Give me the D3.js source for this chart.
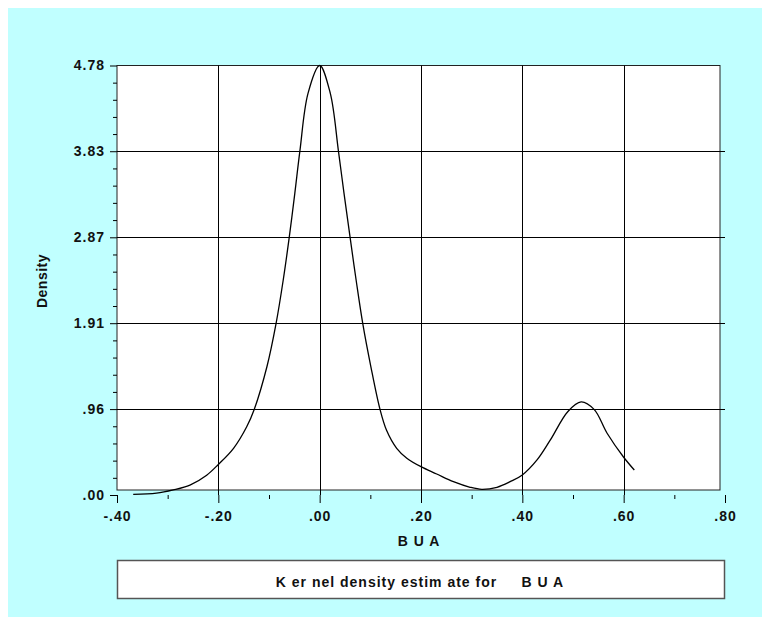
<!DOCTYPE html>
<html>
<head>
<meta charset="utf-8">
<script src="https://cdn.jsdelivr.net/npm/d3@7"></script>
<style>
    body { margin: 0; background: #ffffff; }
    text { font-family: "Liberation Sans", Arial, sans-serif; font-weight: bold; fill: #111; }
</style>
</head>
<body>
<div id="chart"></div>
<script>
// kernel density curve for BUA
const densityX = [-0.368, -0.322, -0.289, -0.256, -0.223, -0.2, -0.17, -0.144, -0.129, -0.104, -0.086, -0.072,
    -0.06, -0.049, -0.039, -0.023, 0, 0.021, 0.037, 0.048, 0.06, 0.072, 0.085, 0.101, 0.119, 0.132, 0.152,
    0.172, 0.2, 0.231, 0.264, 0.297, 0.32, 0.35, 0.376, 0.4, 0.429, 0.455, 0.49, 0.516,
    0.542, 0.567, 0.6, 0.621];
const densityY = [0.008, 0.02, 0.056, 0.11, 0.22, 0.34, 0.52, 0.76, 0.955, 1.43, 1.91, 2.39,
    2.87, 3.36, 3.83, 4.47, 4.78, 4.47, 3.83, 3.36, 2.87, 2.39, 1.91, 1.43, 0.955, 0.72, 0.52,
    0.41, 0.315, 0.234, 0.148, 0.086, 0.063, 0.086, 0.148, 0.223, 0.39, 0.61, 0.93, 1.036,
    0.95, 0.69, 0.42, 0.278];

const xTicks = [-0.4, -0.2, 0, 0.2, 0.4, 0.6, 0.8];
const xTickLabels = ["-.40", "-.20", ".00", ".20", ".40", ".60", ".80"];
const xMinorTicks = [-0.3, -0.1, 0.1, 0.3, 0.5, 0.7];
const yTicks = [0, 0.956, 1.912, 2.868, 3.826, 4.78];
const yTickLabels = [".00", ".96", "1.91", "2.87", "3.83", "4.78"];

const xTitle = "B U A";
const yTitle = "Density";
const legendText = "K er nel density estim ate for     B U A";

var width = 762;
var height = 617;
var font = "'Liberation Sans', Arial, sans-serif";

var svg = d3.select("#chart")
    .append("svg")
    .attr("width", width)
    .attr("height", height);

// cyan page background
svg.append("rect")
    .attr("x", 8)
    .attr("y", 8)
    .attr("width", width - 8)
    .attr("height", height - 8)
    .attr("fill", "#c0ffff");

var x = d3.scaleLinear().domain([-0.4, 0.8]).range([117, 725]);
var y = d3.scaleLinear().domain([0, 4.78]).range([495, 65.5]);

// white plot box
svg.append("rect")
    .attr("x", 117)
    .attr("y", 65.5)
    .attr("width", 603)
    .attr("height", 424.5)
    .attr("fill", "#ffffff")
    .attr("stroke", "#222")
    .attr("stroke-width", 1);

// grid lines
svg.append("g")
    .selectAll("line")
    .data(xTicks.slice(1, -1))
    .enter()
    .append("line")
    .attr("x1", d => Math.round(x(d)) + 0.5)
    .attr("x2", d => Math.round(x(d)) + 0.5)
    .attr("y1", 65.5)
    .attr("y2", 495)
    .attr("stroke", "#000");

svg.append("g")
    .selectAll("line")
    .data(yTicks.slice(1, -1))
    .enter()
    .append("line")
    .attr("x1", 117)
    .attr("x2", 725)
    .attr("y1", d => Math.round(y(d)) + 0.5)
    .attr("y2", d => Math.round(y(d)) + 0.5)
    .attr("stroke", "#000");

// y axis, ticks only
var yMinor = [];
for (let i = 0; i < yTicks.length - 1; i++) {
    for (let k = 1; k < 5; k++) {
        yMinor.push(yTicks[i] + (yTicks[i + 1] - yTicks[i]) * k / 5);
    }
}

var yAxis = svg.append("g")
    .attr("transform", "translate(117,0)")
    .call(d3.axisLeft(y)
        .tickValues(yTicks)
        .tickSize(7)
        .tickPadding(5)
        .tickFormat((d, i) => yTickLabels[i]));
yAxis.select(".domain").remove();
yAxis.selectAll("text")
    .attr("font-size", 14)
    .attr("letter-spacing", 1)
    .attr("fill", "#111")
    .style("font-family", font)
    .style("font-weight", "bold");

var yAxisMinor = svg.append("g")
    .attr("transform", "translate(117,0)")
    .call(d3.axisLeft(y).tickValues(yMinor).tickSize(4).tickFormat(""));
yAxisMinor.select(".domain").remove();

// x axis, offset below the box
var xAxis = svg.append("g")
    .attr("transform", "translate(0,495)")
    .call(d3.axisBottom(x)
        .tickValues(xTicks)
        .tickSize(8)
        .tickPadding(8)
        .tickFormat((d, i) => xTickLabels[i]));
xAxis.select(".domain").remove();
xAxis.selectAll("text")
    .attr("font-size", 14)
    .attr("letter-spacing", 1)
    .attr("fill", "#111")
    .style("font-family", font)
    .style("font-weight", "bold");

var xAxisMinor = svg.append("g")
    .attr("transform", "translate(0,495)")
    .call(d3.axisBottom(x).tickValues(xMinorTicks).tickSize(4).tickFormat(""));
xAxisMinor.select(".domain").remove();

svg.selectAll(".tick line").attr("stroke", "#000");

// density curve
var line = d3.line()
    .x((d, i) => x(densityX[i]))
    .y(d => y(d))
    .curve(d3.curveCatmullRom.alpha(0.5));

svg.append("path")
    .attr("d", line(densityY))
    .attr("fill", "none")
    .attr("stroke", "#000")
    .attr("stroke-width", 1.3);

// axis titles
svg.append("text")
    .attr("x", 419)
    .attr("y", 546)
    .attr("text-anchor", "middle")
    .attr("font-size", 14)
    .attr("letter-spacing", 1)
    .text(xTitle);

svg.append("text")
    .attr("transform", "translate(47,281) rotate(-90)")
    .attr("text-anchor", "middle")
    .attr("font-size", 14)
    .attr("letter-spacing", 0.5)
    .text(yTitle);

// legend box
svg.append("rect")
    .attr("x", 117.5)
    .attr("y", 560.5)
    .attr("width", 607)
    .attr("height", 38)
    .attr("fill", "#ffffff")
    .attr("stroke", "#555")
    .attr("stroke-width", 1.5);

svg.append("text")
    .attr("x", 420)
    .attr("y", 586.5)
    .attr("text-anchor", "middle")
    .attr("font-size", 14)
    .attr("letter-spacing", 1)
    .style("white-space", "pre")
    .text(legendText);
</script>
</body>
</html>
